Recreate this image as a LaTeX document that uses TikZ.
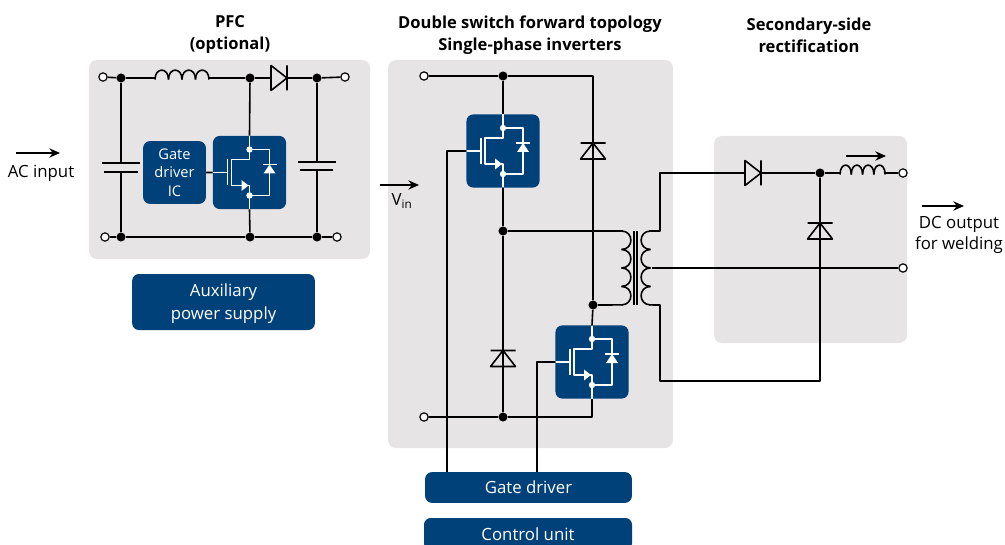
\documentclass[tikz,border=0pt]{standalone}
\usepackage{fontspec}
\setmainfont{Open Sans}
\usetikzlibrary{arrows.meta}
\definecolor{panelgray}{HTML}{E7E4E6}
\definecolor{boxblue}{HTML}{00417A}
\tikzset{
	panel/.style={fill=panelgray,rounded corners=6pt},
	bluebox/.style={fill=boxblue,text=white,rounded corners=5pt,align=center,inner sep=0pt,font=\fontsize{12.6}{17.25}\selectfont},
	title/.style={align=center,font=\fontsize{12.4}{16.5}\selectfont\bfseries},
	label/.style={align=center,font=\fontsize{12.6}{16}\selectfont},
	dot/.style={circle,fill=black,inner sep=0pt,minimum size=6.8pt},
	term/.style={circle,draw=black,fill=white,line width=0.9pt,inner sep=0pt,minimum size=6.2pt},
	flow/.style={-{Stealth[length=8pt,width=7pt]},line width=1pt},
	wire/.style={line width=1.2pt,line join=round},
	diode/.pic={
		\draw[wire] (-8,-12.5)--(8,0)--(-8,12.5)--cycle (8,-12.5)--(8,12.5);
		\coordinate (-in) at (-8,0);
		\coordinate (-out) at (8,0);
	},
	coil/.pic={
		\foreach \i in {0,1,2,3}
			\draw[wire] (12*\i,1.5) .. controls (12*\i,-11) and (12*\i+12,-11) .. (12*\i+12,1.5);
		\coordinate (-in) at (0,0);
		\coordinate (-out) at (48,0);
	},
	mosfet/.pic={
		\node[bluebox,minimum size=54.8pt] (-box) at (0,0) {};
		\begin{scope}[white,line width=1.2pt,line join=round]
			\draw (0,-36.5)--(0,-23) (0,23)--(0,36.5);
			\draw (-36.5,0)--(-22,0) (-22,-13)--(-22,13);
			\draw (0,-23)--(0,-13)--(-18,-13)--(-18,13)--(0,13)--(0,23);
			\draw (0,-23)--(20,-23)--(20,23)--(0,23);
			\draw (13,-8)--(27,-8);
			\fill (-8,7.5)--(-1,13)--(-8,18.5)--cycle;
			\fill (20,-8)--(26,1)--(14,1)--cycle;
			\fill (0,-23) circle (3.2) (0,23) circle (3.2);
		\end{scope}
	}
}
\begin{document}
\begin{tikzpicture}[x=0.75pt,y=-0.75pt]
	\useasboundingbox (0,0) rectangle (1005,545);
	% panels
	\fill[panel] (89,60) rectangle (370,259);
	\fill[panel] (388,60) rectangle (673,448);
	\fill[panel] (714,136) rectangle (907,343);
	% titles
	\node[title] (pfctitle) at (230,35) {PFC\\(optional)};
	\node[title] (invtitle) at (530,35) {Double switch forward topology\\Single-phase inverters};
	\node[title] (rectitle) at (809,35) {Secondary-side\\rectification};
	% blue boxes
	\node[bluebox,minimum width=47pt,minimum height=47pt,font=\fontsize{11}{14}\selectfont] (ic) at (174.5,172.5) {Gate\\driver\\IC};
	\node[bluebox,minimum width=137pt,minimum height=42pt,text depth=0pt] (aux) at (223.5,302) {Auxiliary\\power supply};
	\node[bluebox,minimum width=155pt,minimum height=23pt] (gatedrv) at (528.5,487.5) {Gate driver};
	\node[bluebox,minimum width=156pt,minimum height=24pt] (ctrl) at (528,534) {Control unit};
	\pic (mpfc) at (249.5,172.5) {mosfet};
	\pic (mhi) at (503,151) {mosfet};
	\pic (mlo) at (592,362) {mosfet};
	% PFC stage
	\node[term] (t1) at (103,77) {};
	\node[term] (t2) at (105,237) {};
	\node[term] (t3) at (345,77) {};
	\node[term] (t4) at (337,237) {};
	\node[dot] (n1) at (121,78) {};
	\node[dot] (n2) at (121,237) {};
	\node[dot] (n3) at (250,78) {};
	\node[dot] (n4) at (250,237) {};
	\node[dot] (n5) at (317,78) {};
	\node[dot] (n6) at (317,237) {};
	\pic[xscale=1.125] (lpfc) at (155,78) {coil};
	\pic (dpfc) at (279,78) {diode};
	\coordinate (c1a) at (121,163);
	\coordinate (c1b) at (121,172);
	\coordinate (c2a) at (317,162);
	\coordinate (c2b) at (317,170);
	\draw[wire] (t1)--(n1)--(lpfc-in) (lpfc-out)--(n3)--(dpfc-in) (dpfc-out)--(n5)--(t3);
	\draw[wire] (t2)--(n2)--(n4)--(n6)--(t4);
	\draw[wire] (n1)--(c1a) (c1b)--(n2) (n5)--(c2a) (c2b)--(n6);
	\draw[wire] (n3)--(mpfc-box.north) (mpfc-box.south)--(n4) (ic)--(mpfc-box.west);
	\draw[wire] (102,163)--(140,163) (104,172)--(138,172) (298,162)--(336,162) (300,170)--(333,170);
	% inverter stage
	\node[term] (t5) at (424,76) {};
	\node[term] (t6) at (424,417) {};
	\node[dot] (n7) at (503,76) {};
	\node[dot] (n8) at (503,231) {};
	\node[dot] (n9) at (503,417) {};
	\node[dot] (n10) at (593,305) {};
	\coordinate (n11) at (593,76);
	\coordinate (n12) at (592,417);
	\coordinate (g1) at (447,472);
	\coordinate (g2) at (537,472);
	\pic[rotate=90] (dhi) at (593,151) {diode};
	\pic[rotate=90] (dlo) at (503,358.5) {diode};
	\draw[wire] (t5)--(n7)--(n11)--(n10);
	\draw[wire] (n7)--(mhi-box.north) (mhi-box.south)--(n8)--(n9);
	\draw[wire] (t6)--(n9)--(n12)--(mlo-box.south) (mlo-box.north)--(n10);
	\draw[wire] (mhi-box.west)-|(g1) (mlo-box.west)-|(g2);
	% transformer
	\pic[rotate=-90,xscale=1.54] (tpri) at (623,231) {coil};
	\pic[rotate=-90,xscale=1.54,yscale=-1] (tsec) at (649,231) {coil};
	\draw[wire] (633.7,231)--(633.7,305) (636.7,231)--(636.7,305);
	\draw[wire] (n8)--(tpri-in) (n10)--(tpri-out);
	% secondary side
	\node[term] (t7) at (903,173) {};
	\node[term] (t8) at (903,268) {};
	\node[dot] (n13) at (820,173) {};
	\coordinate (n14) at (660,231);
	\coordinate (n15) at (660,173);
	\coordinate (n16) at (660,305);
	\coordinate (n17) at (660,381);
	\coordinate (n18) at (820,381);
	\coordinate (n19) at (652,268);
	\pic (dsec) at (753,173) {diode};
	\pic[rotate=90] (dfw) at (820,231) {diode};
	\pic[xscale=0.94] (lsec) at (840,173) {coil};
	\draw[wire] (tsec-in)--(n14)--(n15)--(dsec-in) (dsec-out)--(n13)--(lsec-in) (lsec-out)--(t7);
	\draw[wire] (tsec-out)--(n16)--(n17)--(n18)--(n13);
	\draw[wire] (n19)--(t8);
	% arrows and labels
	\coordinate (a1) at (16,153);
	\coordinate (a2) at (60,153);
	\coordinate (a3) at (380,185);
	\coordinate (a4) at (419,185);
	\coordinate (a5) at (846,156);
	\coordinate (a6) at (886,156);
	\coordinate (a7) at (922,206);
	\coordinate (a8) at (964,206);
	\draw[flow] (a1)--(a2);
	\draw[flow] (a3)--(a4);
	\draw[flow] (a5)--(a6);
	\draw[flow] (a7)--(a8);
	\node[label] (acin) at (41,173.5) {AC input};
	\node[label] (vin) at (402,201) {V\textsubscript{in}};
	\node[label] (dcout) at (959,235) {DC output\\for welding};
\end{tikzpicture}
\end{document}
